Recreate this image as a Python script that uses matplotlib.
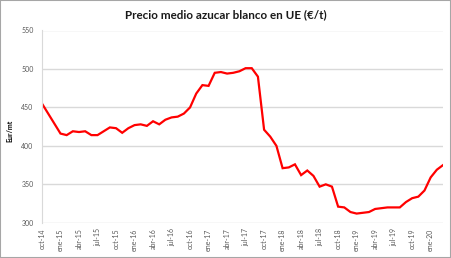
import numpy as np
import matplotlib.pyplot as plt
from matplotlib.patches import Rectangle

# monthly price, oct-14 .. mar-20
precio = [455, 442, 429, 416, 414, 419, 418, 419, 414, 414,
          419, 424, 423, 417, 423, 427, 428, 426, 432, 428,
          434, 437, 438, 442, 450, 468, 479, 478, 495, 496,
          494, 495, 497, 501, 501, 490, 421, 412, 400, 371,
          372, 376, 362, 368, 361, 347, 350, 347, 321, 320,
          314, 312, 313, 314, 318, 319, 320, 320, 320, 327,
          332, 334, 342, 359, 369, 375]
meses = ['ene', 'feb', 'mar', 'abr', 'may', 'jun',
         'jul', 'ago', 'sep', 'oct', 'nov', 'dic']
etiquetas = []
for i in range(len(precio)):
    m = (9 + i) % 12
    a = 14 + (9 + i) // 12
    etiquetas.append(f"{meses[m]}-{a}")

plt.rcParams['font.family'] = ['Lato', 'DejaVu Sans']

fig = plt.figure(figsize=(4.51, 2.58), dpi=100)
ax = fig.add_axes([42/451, 1-222.8/258, 401/451, (222.8-30.5)/258])

x = np.arange(len(precio))
ax.plot(x, precio, color='#ff0000', lw=1.6, solid_joinstyle='miter')

ax.set_xlim(0, len(precio)-1)
ax.set_ylim(300, 550)
ax.set_yticks(range(300, 551, 50))
ax.tick_params(axis='y', labelsize=5, colors='#595959', length=0, pad=6)
ax.set_xticks(x[::3])
ax.set_xticklabels(etiquetas[::3], rotation=90, fontsize=5, color='#595959')
ax.tick_params(axis='x', length=0, pad=4)
ax.grid(axis='y', color='#d9d9d9', lw=1)
for s in ['top', 'right', 'bottom']:
    ax.spines[s].set_visible(False)
ax.spines['left'].set_color('#d9d9d9')
ax.set_axisbelow(True)
ax.set_ylabel('Eur/mt', fontsize=5, fontweight='bold')
ax.yaxis.set_label_coords(-0.072, 0.48)

fig.text(0.5, 1-15/258, 'Precio medio azucar blanco en UE (€/t)',
         ha='center', va='center', fontsize=8.4, fontweight='bold', color='#1a1a1a')
fig.patches.append(Rectangle((0, 0), 1, 1, transform=fig.transFigure,
                             fill=False, ec='#a6a6a6', lw=1.5))

plt.savefig('out.png', dpi=100)
